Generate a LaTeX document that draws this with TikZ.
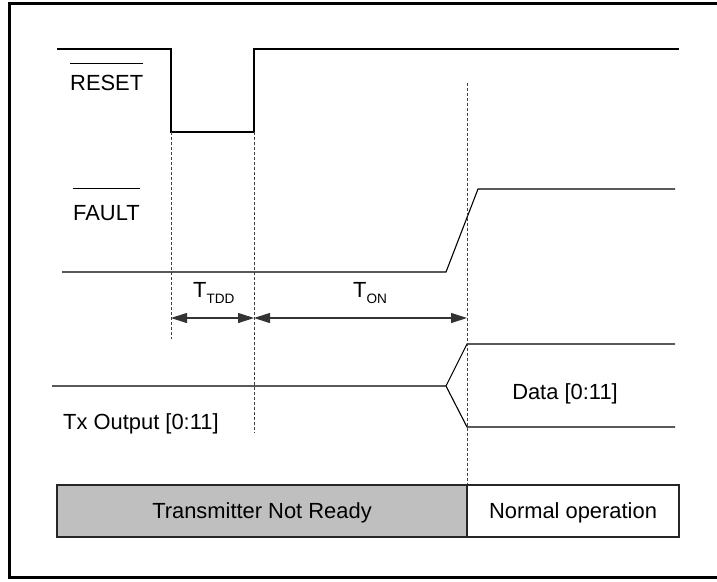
\documentclass[tikz,border=0pt]{standalone}
\usepackage{fontspec}
\setmainfont{Liberation Sans}
\usetikzlibrary{arrows.meta,calc}
\tikzset{
  sig/.style={line width=1.1pt,black},
  guide/.style={line width=0.7pt,dash pattern=on 3pt off 2pt,black!75},
  lbl/.style={inner sep=0pt,anchor=base west,font=\fontsize{21.9}{24}\selectfont},
  ctr/.style={inner sep=0pt,anchor=base,font=\fontsize{21.9}{24}\selectfont},
  meas/.style={line width=1.1pt,black!80,{Triangle[length=16pt,width=10pt]}-{Triangle[length=16pt,width=10pt]}},
  state/.style={draw=black!85,line width=1.1pt}
}
\newcommand{\subtxt}[1]{\raisebox{-6pt}{\fontsize{13.6}{14}\selectfont #1}}
\begin{document}
\begin{tikzpicture}[x=1pt,y=-1pt]
\useasboundingbox (0,0) rectangle (717,581);
% outer frame (open on the right)
\draw[line width=3pt] (740,3) -- (9.5,3) -- (9.5,577) -- (740,577);
% coordinates
\coordinate (d1) at (171,132);
\coordinate (d1b) at (171,339);
\coordinate (d2) at (254,132);
\coordinate (d2b) at (254,433);
\coordinate (d3) at (467,83);
\coordinate (d3b) at (467,485);
% RESET waveform
\draw[sig] (57,49) -- (171,49) -- (171,132) -- (254,132) -- (254,49) -- (679,49);
% FAULT waveform
\draw[sig] (62,272) -- (446,272) -- (478,189) -- (675,189);
% Tx output
\draw[sig] (52,386) -- (446,386) -- (467,344) -- (675,344);
\draw[sig] (446,386) -- (467,427) -- (675,427);
% dashed guides
\draw[guide] (d1) -- (d1b);
\draw[guide] (d2) -- (d2b);
\draw[guide] (d3) -- (d3b);
% measurement arrows
\draw[meas] (171,318) coordinate (a1) -- (254,318) coordinate (a2);
\draw[meas] (a2) -- (467,318) coordinate (a3);
\node[lbl] (ttdd) at (193,297) {T\subtxt{TDD}};
\node[lbl] (ton) at (353,297) {T\subtxt{ON}};
% labels
\node[lbl] (reset) at (70,90) {RESET};
\draw[line width=1pt] ($(reset.base west)+(0,-27)$) -- ($(reset.base east)+(0,-27)$);
\node[lbl] (fault) at (73,220) {FAULT};
\draw[line width=1pt] ($(fault.base west)+(0,-32)$) -- ($(fault.base east)+(0,-32)$);
\node[lbl] (tx) at (63,429) {Tx Output [0:11]};
\node[ctr] (data) at (565,399) {Data [0:11]};
% state bar
\draw[state,fill=black!25] (57,485) rectangle (467,537);
\draw[state,fill=white] (467,485) rectangle (679,537);
\node[ctr] (tnr) at (262,518) {Transmitter Not Ready};
\node[ctr] (norm) at (573,518) {Normal operation};
\end{tikzpicture}
\end{document}
